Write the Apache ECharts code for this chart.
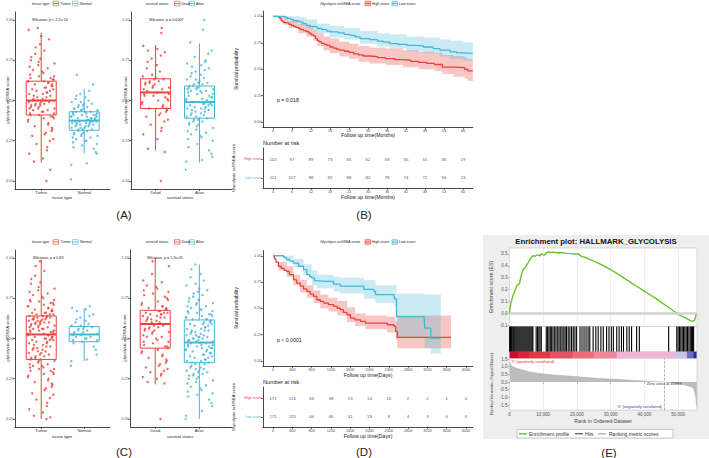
<!DOCTYPE html>
<html>
<head>
<meta charset="utf-8">
<script src="https://cdn.jsdelivr.net/npm/echarts@6.0.0/dist/echarts.min.js"></script>
<style>
html,body{margin:0;padding:0;background:#fff;}
#chart{width:709px;height:458px;}
</style>
</head>
<body>
<div id="chart"></div>
<script>
// ================= DATA =================
const tissueCats = ['Tumor', 'Normal'];
const statusCats = ['Dead', 'Alive'];
const boxYTicks = [0, 0.25, 0.5, 0.75, 1];

// box statistics: [lower whisker, Q1, median, Q3, upper whisker]
const boxA1 = [[0.115, 0.41, 0.50, 0.62, 0.92], [0.17, 0.315, 0.375, 0.43, 0.57]];
const boxA2 = [[0.19, 0.45, 0.55, 0.635, 0.845], [0.115, 0.39, 0.49, 0.59, 0.855]];
const boxC1 = [[0.0, 0.37, 0.525, 0.64, 0.99], [0.36, 0.48, 0.525, 0.575, 0.69]];
const boxC2 = [[0.215, 0.44, 0.59, 0.675, 1.0], [0.0, 0.35, 0.475, 0.615, 0.96]];

// jittered sample scores (x100)
const ptsA1Tumor = [0,7,12,14,17,19,21,23,25,26,28,29,30,31,32,33,34,35,36,37,38,39,39,40,40,
  41,41,42,42,43,43,44,44,45,45,45,46,46,47,47,47,48,48,48,49,49,49,50,50,50,
  51,51,52,52,53,53,54,54,55,55,56,56,57,57,58,58,59,59,60,60,61,61,62,62,62,
  63,63,64,64,65,65,66,67,68,69,70,71,72,73,74,75,76,77,79,81,83,85,88,90,94,95];
const ptsA1Normal = [1,10,11,17,18,20,21,22,23,24,25,25,26,27,27,28,28,29,29,30,30,31,
  31,32,32,32,33,33,33,34,34,34,35,35,35,35,36,36,36,36,37,37,37,37,37,
  38,38,38,38,39,39,39,39,40,40,40,40,41,41,41,41,42,42,42,43,43,43,43,
  44,44,44,45,45,45,46,46,47,47,48,48,49,49,50,51,52,53,54,56,60,66];
const ptsA2Dead = [0,18,20,26,29,31,33,35,37,38,40,41,42,43,44,
  45,45,46,47,48,49,50,50,51,52,53,53,54,54,55,
  55,56,57,57,58,58,59,60,60,61,61,62,62,63,63,
  64,65,66,68,70,72,74,76,78,80,81,82,84,92,95];
const ptsA2Alive = [7,12,13,15,17,19,21,23,25,26,27,28,29,30,31,32,33,34,35,35,36,37,37,38,38,
  39,39,40,40,41,41,42,42,43,43,44,44,45,45,45,46,46,47,47,47,48,48,48,49,49,
  49,50,50,50,51,51,52,52,53,53,54,54,55,55,56,56,56,57,57,57,58,58,58,59,59,
  60,60,61,61,62,63,63,64,65,66,67,68,69,70,71,72,73,74,75,77,79,81,86,94,100];
const ptsC1Tumor = [0,1,2,4,6,8,10,12,13,15,16,18,19,20,21,22,23,24,25,26,27,28,28,29,30,30,31,31,32,32,33,33,34,34,35,36,36,
  37,37,38,38,39,39,40,40,41,41,42,42,43,43,44,44,45,45,46,46,47,47,48,48,49,49,49,50,50,50,51,51,51,52,52,52,53,53,
  53,54,54,54,55,55,55,56,56,56,57,57,57,58,58,58,59,59,59,60,60,60,60,61,61,61,62,62,62,62,63,63,63,63,64,64,64,64,
  65,65,65,66,66,66,67,67,68,68,69,69,70,70,71,71,72,72,73,73,74,74,75,76,77,78,79,80,81,82,84,85,87,89,92,95,98];
const ptsC1Normal = [33,36,37,40,43,45,47,48,49,49,50,50,51,51,52,52,53,53,53,54,54,55,55,56,56,57,57,58,58,59,60,61,62,63,64,65,67,68,69,70];
const ptsC2Dead = [0,22,23,25,26,27,28,29,30,31,32,33,34,35,36,37,38,39,40,41,42,43,
  44,45,45,46,47,48,48,49,50,51,51,52,53,54,54,55,55,56,56,57,57,58,58,
  59,59,60,60,61,61,62,62,63,63,63,64,64,65,65,65,66,66,66,67,67,68,68,
  69,69,70,70,71,72,73,74,75,76,77,78,79,80,81,82,83,85,86,90,95,98];
const ptsC2Alive = [0,2,5,8,10,12,14,15,16,17,18,19,20,21,22,23,24,25,25,26,27,27,28,28,29,29,30,30,31,31,32,32,33,34,34,
  35,35,36,36,37,37,38,38,39,39,40,40,41,41,41,42,42,43,43,43,44,44,44,45,45,45,46,46,46,47,47,47,48,48,48,
  48,49,49,49,50,50,50,51,51,51,52,52,52,53,53,54,54,55,55,55,56,56,57,57,58,58,59,59,59,60,60,61,61,62,62,
  62,63,63,64,64,65,65,66,66,67,67,68,68,69,70,70,71,72,72,73,74,75,76,77,78,79,80,81,83,84,86,88,90,93,96];
// horizontal jitter offsets (category units)
const jitter = [0.12,-0.25,0.03,0.29,-0.08,-0.31,0.18,-0.15,0.07,0.24,-0.02,-0.21,0.31,-0.11,0.15,-0.28,0.05,0.21,-0.05,-0.18,
  0.27,0.1,-0.3,0.0,0.16,-0.13,0.26,-0.23,0.08,-0.06,0.2,-0.27,0.13,0.02,-0.17,0.3,-0.09,0.22,-0.2,0.06,
  -0.29,0.17,-0.03,0.25,-0.14,0.11,-0.24,0.28,-0.07,0.14,-0.19,0.04,-0.26];

// ---- Panel B: survival (months) ----
const bTicks = [0,6,12,18,24,30,36,42,48,54,60];
const bHighT = [0,1.8,2.2,2.6,3.0,3.5,4.2,5.0,5.8,6.5,7.2,8.0,8.8,9.6,10.5,11.3,12.0,12.8,13.4,14.0,14.6,15.3,16.2,17.0,18.0,19.0,20.0,21.0,22.5,24.0,25.5,27.0,28.5,30.5,33.0,35.5,38.5,41.0,43.5,46.0,48.5,51.0,53.5,57.0,60.5,61.5,63.1];
const bHighS = [1,0.99,0.98,0.96,0.95,0.94,0.935,0.925,0.915,0.905,0.895,0.885,0.875,0.865,0.855,0.84,0.825,0.815,0.79,0.77,0.76,0.745,0.735,0.725,0.71,0.7,0.69,0.68,0.67,0.66,0.645,0.635,0.625,0.62,0.61,0.6,0.59,0.585,0.575,0.565,0.555,0.545,0.52,0.515,0.5,0.485,0.485];
const bLowT = [0,3.8,4.5,5.5,6.4,7.5,8.5,9.5,10.6,11.8,12.7,14.0,15.4,17.0,18.0,20.6,22.5,24.3,26.0,27.5,30.6,33.0,34.8,36.9,39.5,42.2,45.0,47.5,50.6,52.7,55.9,58.0,60.1,63.1];
const bLowS = [1,0.99,0.98,0.97,0.96,0.955,0.945,0.93,0.915,0.905,0.9,0.885,0.874,0.86,0.852,0.843,0.83,0.82,0.805,0.79,0.78,0.765,0.757,0.742,0.735,0.726,0.72,0.71,0.695,0.68,0.665,0.655,0.65,0.65];
const bHighBandT = [0,2,3,5,8,10.5,12.8,14,16,18,21,24,27,30.5,35.5,41,46,51,53.5,57,60.5,61.5,63.1];
const bHighBandLo = [1,0.96,0.92,0.89,0.84,0.81,0.77,0.72,0.68,0.65,0.62,0.6,0.57,0.555,0.54,0.52,0.5,0.48,0.455,0.43,0.41,0.39,0.385];
const bHighBandHi = [1,1,0.99,0.96,0.93,0.91,0.88,0.84,0.81,0.79,0.76,0.74,0.72,0.705,0.695,0.68,0.665,0.655,0.635,0.625,0.61,0.595,0.595];
const bLowBandT = [0,3.8,5.5,8.5,10.6,14,18,22.5,27.5,33,36.9,42.2,47.5,52.7,55.9,60.1,63.1];
const bLowBandLo = [1,0.97,0.94,0.91,0.88,0.84,0.8,0.78,0.74,0.715,0.695,0.67,0.65,0.62,0.6,0.58,0.575];
const bLowBandHi = [1,1,1,0.99,0.97,0.93,0.91,0.89,0.86,0.84,0.83,0.81,0.8,0.78,0.77,0.755,0.755];
const bRiskHigh = [110,97,89,73,65,62,58,55,51,36,19];
const bRiskLow = [111,107,98,92,88,82,78,74,72,55,23];

// ---- Panel D: survival (days) ----
const dTicks = [0,400,800,1200,1600,2000,2400,2800,3200,3600,4000];
const dHighT = [0,30,60,111,170,230,282,340,424,490,562,630,701,770,840,909,980,1049,1150,1257,1330,1396,1460,1535,1604,1700,1813,1917,2229,2368,2507,2542,2577,3690];
const dHighS = [1,0.97,0.94,0.9,0.88,0.86,0.85,0.82,0.77,0.74,0.71,0.685,0.66,0.635,0.613,0.581,0.565,0.549,0.535,0.517,0.5,0.486,0.46,0.438,0.406,0.39,0.375,0.359,0.359,0.343,0.327,0.279,0.222,0.222];
const dLowT = [0,215,250,282,350,424,528,632,701,760,805,860,909,1187,1257,1396,1813,1882,2090,2125,2507,2521,2560,3132,3146,3236,3271,3479];
const dLowS = [1,0.99,0.98,0.962,0.95,0.93,0.9,0.867,0.82,0.8,0.79,0.76,0.755,0.755,0.73,0.71,0.71,0.68,0.66,0.63,0.63,0.59,0.42,0.42,0.31,0.31,0.215,0.215];
const dHighBandT = [0,111,282,424,562,701,840,980,1150,1330,1535,1700,1917,2368,2542,2577,3690];
const dHighBandLo = [1,0.86,0.8,0.72,0.65,0.6,0.55,0.5,0.47,0.43,0.37,0.33,0.3,0.27,0.2,0.12,0.12];
const dHighBandHi = [1,0.94,0.9,0.82,0.77,0.72,0.67,0.63,0.6,0.57,0.51,0.45,0.43,0.42,0.38,0.43,0.43];
const dLowBandT = [0,215,424,632,805,909,1257,1396,1882,2125,2521,2560,3132,3146,3271,3479];
const dLowBandLo = [1,0.97,0.89,0.81,0.72,0.69,0.66,0.64,0.59,0.55,0.52,0.22,0.22,0.12,0.07,0.07];
const dLowBandHi = [1,1,0.97,0.92,0.86,0.82,0.8,0.79,0.77,0.72,0.72,0.64,0.64,0.63,0.63,0.63];
const dRiskHigh = [171,116,63,38,23,14,10,2,2,1,0];
const dRiskLow = [171,120,64,46,31,19,9,4,3,0,0];

// ---- Panel E: GSEA ----
const esTicks = [-0.1,0,0.1,0.2,0.3,0.4,0.5];
const esX = [0,250,500,750,990,1300,1600,1990,2400,2980,3300,3770,4100,4470,4970,5400,5960,6450,6950,7500,8000,8440,9000,9430,9900,10430,10900,11420,12200,12910,14000,15000,15890,16600,17380,18400,19360,20300,21350,22500,23830,25820,28000,30780,33500,36240,39000,41700,44200,46670,48700,50640,52300,53620,54320,54910,55410];
const esY = [0,0.06,0.1,0.12,0.15,0.17,0.19,0.22,0.24,0.25,0.3,0.35,0.37,0.38,0.4,0.42,0.45,0.47,0.486,0.48,0.49,0.49,0.485,0.5,0.495,0.49,0.51,0.517,0.512,0.515,0.51,0.512,0.51,0.507,0.505,0.503,0.5,0.5,0.48,0.47,0.455,0.43,0.4,0.355,0.305,0.255,0.205,0.157,0.11,0.06,0.02,-0.017,-0.04,-0.06,-0.067,-0.055,0];
const hits = [0.05,0.3,0.55,0.8,1.1,1.35,1.6,1.9,2.2,2.5,2.8,3.1,3.4,3.7,4.0,4.3,4.6,4.9,5.2,5.5,5.8,6.1,6.4,6.7,6.95,
  7.9,8.3,8.7,9.05,9.43,10.9,11.3,11.7,12.1,12.5,12.9,13.4,13.8,14.3,14.7,15.2,15.6,16.1,16.5,16.9,
  17.4,17.9,18.4,18.9,19.4,19.9,20.9,21.5,22.1,22.7,23.3,23.8,24.8,25.6,26.3,27.1,27.8,
  28.8,29.5,30.2,30.8,31.8,32.5,33.2,33.8,34.8,35.5,36.2,37.7,38.5,47.2,
  49.6,50.0,50.4,50.8,51.2,51.6,52.0,52.4,52.8,53.2,53.6,54.0,54.3,54.6]; // thousands
const cbEdges = [0,2500,5960,12000,18900,25000,31800,48700,52600,54500,55400];
const rankTicks = [0,10000,20000,30000,40000,50000];
const rankYTicks = [-1.5,-1,-0.5,0,0.5,1,1.5];
const rankX = [0,200,500,990,2000,3970,6000,8940,13000,17700,22000,26300,30700,35100,40000,43000,45993,48500,50640,52600,54000,54600,55000,55300,55550];
const rankY = [1.3,1.18,1.1,1.02,0.9,0.78,0.66,0.56,0.46,0.39,0.31,0.24,0.18,0.13,0.07,0.035,0,-0.06,-0.13,-0.22,-0.32,-0.42,-0.7,-1.1,-1.65];
const zeroCross = 45993;

// ================= STYLE / BUILD =================
const FONT = 'Liberation Sans, Arial, Helvetica, sans-serif';
const RED = '#E8433A', BLUE = '#45B6D9';
const RED_BAND = 'rgba(232,67,58,0.30)', BLUE_BAND = 'rgba(69,182,217,0.28)';
const cbColors = ['#C8102E','#D42636','#DC3A48','#E25462','#E96D7A','#EE8894','#F2B4D6','#C9C5EA','#6F6CC4','#2B2A9E'];

const grids = [], xAxes = [], yAxes = [], series = [], G = [];

function axLine(){ return {show:true, onZero:false, lineStyle:{color:'#1a1a1a', width:0.8}}; }
function axTick(vals){ return {show:true, length:2, customValues:vals, lineStyle:{color:'#1a1a1a', width:0.6}}; }
function axLabel(vals, fmt, extra){ return Object.assign({show:true, customValues:vals, formatter:fmt, fontSize:3.8, color:'#4d4d4d', margin:1.5, fontFamily:FONT}, extra||{}); }
function addGrid(g){ grids.push(Object.assign({containLabel:false, outerBoundsMode:'none'}, g)); return grids.length-1; }

function boxRender(params, api){
  const x = api.value(0);
  const lo = api.coord([x, api.value(1)]), q1 = api.coord([x, api.value(2)]),
        md = api.coord([x, api.value(3)]), q3 = api.coord([x, api.value(4)]), hi = api.coord([x, api.value(5)]);
  const hw = 15, col = params.dataIndex ? BLUE : RED;
  const ls = {stroke:col, lineWidth:1, fill:'none'};
  return {type:'group', children:[
    {type:'line', shape:{x1:lo[0], y1:lo[1], x2:q1[0], y2:q1[1]}, style:ls},
    {type:'line', shape:{x1:q3[0], y1:q3[1], x2:hi[0], y2:hi[1]}, style:ls},
    {type:'rect', shape:{x:q3[0]-hw, y:q3[1], width:2*hw, height:q1[1]-q3[1]}, style:{stroke:col, lineWidth:1, fill:'none'}},
    {type:'line', shape:{x1:md[0]-hw, y1:md[1], x2:md[0]+hw, y2:md[1]}, style:{stroke:col, lineWidth:2, fill:'none'}}
  ]};
}

function boxPanel(grid, xr, cats, stats, groups){
  const gi = addGrid(grid);
  xAxes.push({type:'value', gridIndex:gi, min:xr[0], max:xr[1], axisLine:axLine(), axisTick:axTick([1,2]),
    axisLabel:axLabel([1,2], v => cats[Math.round(v)-1], {fontSize:4.2, color:'#333'}), splitLine:{show:false}});
  yAxes.push({type:'value', gridIndex:gi, min:-0.05, max:1.05, axisLine:axLine(), axisTick:axTick(boxYTicks),
    axisLabel:axLabel(boxYTicks, v => v.toFixed(2)), splitLine:{show:false}});
  const xi = xAxes.length-1, yi = yAxes.length-1;
  series.push({type:'custom', xAxisIndex:xi, yAxisIndex:yi, z:2, silent:true,
    data: stats.map((s,i) => [i+1].concat(s)), renderItem: boxRender});
  groups.forEach((arr,k) => series.push({type:'scatter', xAxisIndex:xi, yAxisIndex:yi, z:3, silent:true,
    symbolSize:2.4, itemStyle:{color: k ? BLUE : RED},
    data: arr.map((v,i) => [k+1+jitter[(i*17+k*5) % jitter.length], v/100])}));
}

function bandSeries(xi, yi, T, LO, HI, color){
  return {type:'custom', xAxisIndex:xi, yAxisIndex:yi, z:1, silent:true, clip:true,
    data:[[T[0], LO[0]]],
    renderItem:(params, api) => {
      const up = [], dn = [];
      for (let i = 0; i < T.length; i++){
        const tn = i < T.length-1 ? T[i+1] : T[i];
        up.push(api.coord([T[i], HI[i]]), api.coord([tn, HI[i]]));
        dn.push(api.coord([T[i], LO[i]]), api.coord([tn, LO[i]]));
      }
      return {type:'polygon', shape:{points: up.concat(dn.reverse())}, style:{fill:color, stroke:'none'}};
    }};
}

function kmPanel(grid, xr, ticks, curves, bands){
  const gi = addGrid(grid);
  xAxes.push({type:'value', gridIndex:gi, min:xr[0], max:xr[1], axisLine:axLine(), axisTick:axTick(ticks),
    axisLabel:axLabel(ticks, v => String(v)), splitLine:{show:false}});
  yAxes.push({type:'value', gridIndex:gi, min:-0.05, max:1.05, axisLine:axLine(), axisTick:axTick(boxYTicks),
    axisLabel:axLabel(boxYTicks, v => v.toFixed(2)), splitLine:{show:false}});
  const xi = xAxes.length-1, yi = yAxes.length-1;
  bands.forEach(b => series.push(bandSeries(xi, yi, b[0], b[1], b[2], b[3])));
  curves.forEach(c => series.push({type:'line', xAxisIndex:xi, yAxisIndex:yi, z:3, silent:true, step:'end',
    showSymbol:false, symbol:'none', lineStyle:{color:c[2], width:1.3}, itemStyle:{color:c[2]},
    data: c[0].map((t,i) => [t, c[1][i]])}));
}

function riskPanel(grid, xr, ticks, high, low){
  const gi = addGrid(grid);
  xAxes.push({type:'value', gridIndex:gi, min:xr[0], max:xr[1], axisLine:axLine(), axisTick:axTick(ticks),
    axisLabel:axLabel(ticks, v => String(v)), splitLine:{show:false}});
  yAxes.push({type:'value', gridIndex:gi, min:0.45, max:2.6, axisLine:axLine(), axisTick:axTick([1,2]),
    axisLabel:axLabel([1,2], v => v > 1.5 ? 'High score' : 'Low score',
      {fontSize:3.6, color: val => (String(val).indexOf('High') >= 0 || Number(val) === 2) ? RED : BLUE}),
    splitLine:{show:false}});
  const xi = xAxes.length-1, yi = yAxes.length-1;
  [high, low].forEach((arr,k) => series.push({type:'scatter', xAxisIndex:xi, yAxisIndex:yi, z:3, silent:true,
    symbolSize:1, itemStyle:{color:'rgba(0,0,0,0)'},
    label:{show:true, position:'inside', formatter: p => String(p.value[2]), fontSize:4.4, color:'#222', fontFamily:FONT},
    data: ticks.map((t,i) => [t, k ? 1 : 2, arr[i]])}));
}

// ---- panels A / C ----
boxPanel({left:15, top:12, width:95, height:177}, [0.39, 2.6], tissueCats, boxA1, [ptsA1Tumor, ptsA1Normal]);
boxPanel({left:131, top:12, width:101, height:177}, [0.44, 2.74], statusCats, boxA2, [ptsA2Dead, ptsA2Alive]);
boxPanel({left:15, top:250, width:95, height:177}, [0.39, 2.6], tissueCats, boxC1, [ptsC1Tumor, ptsC1Normal]);
boxPanel({left:130.5, top:250, width:101.5, height:177}, [0.44, 2.74], statusCats, boxC2, [ptsC2Dead, ptsC2Alive]);

// ---- panels B / D ----
const bRange = [-3.16, 63.16], dRange = [-208, 4146];
kmPanel({left:263, top:11, width:210, height:116.5}, bRange, bTicks,
  [[bHighT, bHighS, RED], [bLowT, bLowS, BLUE]],
  [[bHighBandT, bHighBandLo, bHighBandHi, RED_BAND], [bLowBandT, bLowBandLo, bLowBandHi, BLUE_BAND]]);
riskPanel({left:263, top:148, width:210, height:40}, bRange, bTicks, bRiskHigh, bRiskLow);
kmPanel({left:263, top:250.5, width:210, height:115.5}, dRange, dTicks,
  [[dHighT, dHighS, RED], [dLowT, dLowS, BLUE]],
  [[dHighBandT, dHighBandLo, dHighBandHi, RED_BAND], [dLowBandT, dLowBandLo, dLowBandHi, BLUE_BAND]]);
riskPanel({left:263, top:387, width:210, height:40}, dRange, dTicks, dRiskHigh, dRiskLow);

// ---- panel E ----
const EX = {left:509.5, width:187.5};
const eBox = {show:true, backgroundColor:'#fff', borderColor:'#bdbdbd', borderWidth:0.6};
const eLabel = {fontSize:4.5, color:'#555', margin:2, fontFamily:FONT};
const eTick = c => ({show:true, length:2, customValues:c, lineStyle:{color:'#888', width:0.5}});
const RMAX = 55600;
// ES
let gi = addGrid(Object.assign({top:248, height:78.5}, EX, eBox));
xAxes.push({type:'value', gridIndex:gi, min:0, max:RMAX, interval:10000, axisLine:{show:false}, axisTick:{show:false}, axisLabel:{show:false},
  splitLine:{show:true, lineStyle:{color:'#e4e4e4', width:0.6}}});
yAxes.push({type:'value', gridIndex:gi, min:-0.11, max:0.55, axisLine:{show:false}, axisTick:eTick(esTicks),
  axisLabel:Object.assign({customValues:esTicks, formatter:v => v.toFixed(1)}, eLabel), splitLine:{show:false}});
series.push({type:'line', xAxisIndex:xAxes.length-1, yAxisIndex:yAxes.length-1, z:3, silent:true, showSymbol:false, symbol:'none',
  lineStyle:{color:'#6CC12A', width:1.4}, itemStyle:{color:'#6CC12A'},
  data: esX.map((x,i) => [x, esY[i]]),
  markLine:{silent:true, symbol:'none', label:{show:false}, lineStyle:{color:'#d2d2d2', width:2.5, type:'solid'}, data:[{yAxis:0}]}});
// hits
gi = addGrid(Object.assign({top:326.5, height:25.2}, EX, eBox));
xAxes.push({type:'value', gridIndex:gi, min:0, max:RMAX, show:false});
yAxes.push({type:'value', gridIndex:gi, min:0, max:1, show:false});
series.push({type:'custom', xAxisIndex:xAxes.length-1, yAxisIndex:yAxes.length-1, silent:true,
  data: hits.map(h => [h*1000, 0]),
  renderItem:(p, api) => { const a = api.coord([api.value(0), 0]), b = api.coord([api.value(0), 1]);
    return {type:'line', shape:{x1:a[0], y1:a[1], x2:b[0], y2:b[1]}, style:{stroke:'#000', lineWidth:1.1}}; }});
// colour bar
gi = addGrid(Object.assign({top:351.7, height:6.6}, EX));
xAxes.push({type:'value', gridIndex:gi, min:0, max:RMAX, show:false});
yAxes.push({type:'value', gridIndex:gi, min:0, max:1, show:false});
series.push({type:'custom', xAxisIndex:xAxes.length-1, yAxisIndex:yAxes.length-1, silent:true,
  data: cbEdges.slice(0,-1).map((e,i) => [e, cbEdges[i+1], i]),
  renderItem:(p, api) => { const a = api.coord([api.value(0), 1]), b = api.coord([api.value(1), 0]);
    return {type:'rect', shape:{x:a[0], y:a[1], width:b[0]-a[0]+0.3, height:b[1]-a[1]}, style:{fill:cbColors[api.value(2)], stroke:'none'}}; }});
// ranked metric
gi = addGrid(Object.assign({top:358.3, height:51.8}, EX, eBox));
xAxes.push({type:'value', gridIndex:gi, min:0, max:RMAX, interval:10000, axisLine:{show:false}, axisTick:eTick(rankTicks),
  axisLabel:Object.assign({customValues:rankTicks, formatter:v => v.toLocaleString('en-US')}, eLabel),
  splitLine:{show:true, lineStyle:{color:'#e4e4e4', width:0.6}}});
yAxes.push({type:'value', gridIndex:gi, min:-1.83, max:1.55, axisLine:{show:false}, axisTick:eTick(rankYTicks),
  axisLabel:Object.assign({customValues:rankYTicks, formatter:v => v.toFixed(1)}, eLabel), splitLine:{show:false}});
series.push({type:'line', xAxisIndex:xAxes.length-1, yAxisIndex:yAxes.length-1, z:3, silent:true, showSymbol:false, symbol:'none',
  lineStyle:{color:'#aaaaaa', width:0.5}, itemStyle:{color:'#aaaaaa'}, areaStyle:{color:'#bcbcbc', opacity:1, origin:'auto'},
  data: rankX.map((x,i) => [x, rankY[i]]),
  markLine:{silent:true, symbol:'none', label:{show:false}, lineStyle:{color:'#999', width:0.7, type:'dashed'}, data:[{xAxis:zeroCross}]}});

// ================= TEXT / ANNOTATIONS =================
function T(x, y, text, size, o){ o = o || {};
  return {type:'text', x:x, y:y, rotation:o.rot ? Math.PI/2 : 0, z:50, silent:true,
    style:{text:text, fontSize:size, fontFamily:FONT, fontWeight:o.bold ? 'bold' : 'normal', fill:o.color || '#222',
      textAlign:o.align || 'center', textVerticalAlign:'middle', verticalAlign:'middle'}}; }
function K(x, y, stroke, fill){ return {type:'group', z:50, silent:true, children:[
  {type:'rect', shape:{x:x, y:y, width:5.5, height:4.6}, style:{stroke:stroke, fill:fill || '#fff', lineWidth:0.6}},
  {type:'line', shape:{x1:x, y1:y+2.3, x2:x+5.5, y2:y+2.3}, style:{stroke:stroke, lineWidth:0.8}}]}; }
function L(x1, y1, x2, y2, stroke, w){ return {type:'line', z:50, silent:true, shape:{x1, y1, x2, y2}, style:{stroke:stroke, lineWidth:w}}; }

// E background first
G.push({type:'rect', z:-10, silent:true, shape:{x:483, y:235, width:226, height:204}, style:{fill:'#EEEEEE'}});

// legends of box panels
[[3.5, 1.2], [242, 239.7]].forEach(([ty, ky]) => {
  G.push(T(32, ty, 'tissue type', 3.6, {align:'left'}), K(53, ky, RED), T(60.5, ty, 'Tumor', 3.6, {align:'left'}),
         K(72.5, ky, BLUE), T(80, ty, 'Normal', 3.6, {align:'left'}));
  G.push(T(145.5, ty, 'survival status', 3.6, {align:'left'}), K(174.5, ky, RED), T(181.5, ty, 'Dead', 3.6, {align:'left'}),
         K(189, ky, BLUE), T(196, ty, 'Alive', 3.6, {align:'left'}));
});
G.push(T(32, 19.5, 'Wilcoxon, p < 2.2e-16', 3.7, {align:'left'}));
G.push(T(149, 19.5, 'Wilcoxon, p = 0.0007', 3.7, {align:'left'}));
G.push(T(33, 257.5, 'Wilcoxon, p = 0.83', 3.7, {align:'left'}));
G.push(T(147, 257.5, 'Wilcoxon, p = 1.3e-05', 3.7, {align:'left'}));
G.push(T(7, 100, 'glycolysis ssGSEA score', 4.3, {rot:true}), T(125, 100, 'glycolysis ssGSEA score', 4.3, {rot:true}));
G.push(T(7, 338, 'glycolysis ssGSEA score', 4.3, {rot:true}), T(124.5, 338, 'glycolysis ssGSEA score', 4.3, {rot:true}));
G.push(T(62, 197, 'tissue type', 4.2), T(180, 197, 'survival status', 4.2));
G.push(T(62, 436, 'tissue type', 4.2), T(180, 436, 'survival status', 4.2));

// KM legends and titles
[[3.5, 1.2], [242, 239.7]].forEach(([ty, ky]) => {
  G.push(T(320, ty, 'Glycolysis ssGSEA score', 3.6, {align:'left'}), K(365, ky, RED, '#F6C4BD'),
         T(372, ty, 'High score', 3.6, {align:'left'}), K(392, ky, BLUE, '#C5E7F3'), T(399, ty, 'Low score', 3.6, {align:'left'}));
});
G.push(T(236, 69, 'Survival probability', 5, {rot:true}), T(368, 135, 'Follow up time(Months)', 5.2));
G.push(T(277, 100, 'p = 0.018', 5.2, {align:'left'}), T(263, 143, 'Number at risk', 5.6, {align:'left'}));
G.push(T(368, 197, 'Follow up time(Months)', 5.2), T(233, 168, 'Glycolysis ssGSEA score', 4.3, {rot:true}));
G.push(T(236, 308, 'Survival probability', 5, {rot:true}), T(368, 375, 'Follow up time(Days)', 5.2));
G.push(T(277, 340, 'p < 0.0001', 5.2, {align:'left'}), T(263, 382, 'Number at risk', 5.6, {align:'left'}));
G.push(T(368, 435.5, 'Follow up time(Days)', 5.2), T(233, 407, 'Glycolysis ssGSEA score', 4.3, {rot:true}));

// GSEA texts
G.push(T(596, 241, 'Enrichment plot: HALLMARK_GLYCOLYSIS', 7.8, {bold:true, color:'#111'}));
G.push(T(491, 287, 'Enrichment score (ES)', 5.2, {rot:true, color:'#444'}));
G.push(T(491, 384, 'Ranked list metric (Signal2Noise)', 4.2, {rot:true, color:'#444'}));
G.push(T(603, 421, 'Rank in Ordered Dataset', 5.2, {color:'#444'}));
G.push(T(511, 361.8, "'Y' (positively correlated)", 4, {align:'left', color:'#E0302A'}));
G.push(T(662, 406, "'V' (negatively correlated)", 4, {align:'right', color:'#3535B5'}));
G.push(T(664, 383, 'Zero cross at 45993', 3.9, {color:'#333'}));
G.push({type:'rect', z:49, silent:true, shape:{x:517, y:429.5, width:156, height:8.5}, style:{fill:'#fff', stroke:'#aaa', lineWidth:0.6}});
G.push(L(519, 433.8, 527, 433.8, '#6CC12A', 1.5), T(529, 433.8, 'Enrichment profile', 5, {align:'left', color:'#333'}));
G.push(L(575, 433.8, 583, 433.8, '#333', 1), T(585, 433.8, 'Hits', 5, {align:'left', color:'#333'}));
G.push(L(598, 433.8, 606, 433.8, '#bbb', 1.5), T(609, 433.8, 'Ranking metric scores', 5, {align:'left', color:'#333'}));

// panel tags
G.push(T(124, 215, '(A)', 11.5), T(364, 215, '(B)', 11.5), T(124, 452, '(C)', 11.5), T(364, 452, '(D)', 11.5), T(609, 453, '(E)', 11.5));

const chart = echarts.init(document.getElementById('chart'), null, {renderer:'svg'});
chart.setOption({
  animation:false,
  backgroundColor:'#fff',
  textStyle:{fontFamily:FONT},
  grid:grids, xAxis:xAxes, yAxis:yAxes, series:series,
  graphic:{elements:G}
});
</script>
</body>
</html>
